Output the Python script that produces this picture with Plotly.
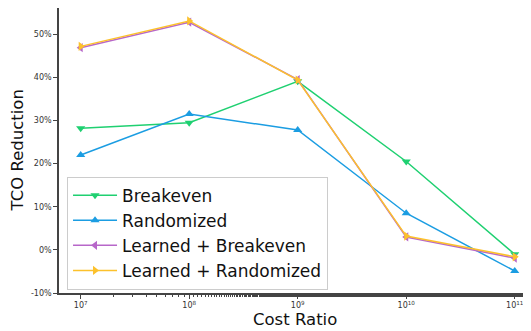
import plotly.graph_objects as go

cost_ratio = [1e7, 1e8, 1e9, 1e10, 1e11]
breakeven = [28.2, 29.5, 39.1, 20.5, -1.0]
randomized = [22.0, 31.5, 27.8, 8.5, -4.9]
learned_breakeven = [46.9, 52.8, 39.5, 3.0, -1.9]
learned_randomized = [47.2, 53.1, 39.4, 3.2, -1.6]

x_tickvals = [1e7, 1e8, 1e9, 1e10, 1e11]
x_ticktext = ["10<sup>7</sup>", "10<sup>8</sup>", "10<sup>9</sup>", "10<sup>10</sup>", "10<sup>11</sup>"]
y_tickvals = [-10, 0, 10, 20, 30, 40, 50]
y_ticktext = ["-10%", "0%", "10%", "20%", "30%", "40%", "50%"]

series = [
    ("Breakeven", breakeven, "#1fd071", "triangle-down"),
    ("Randomized", randomized, "#1b9de2", "triangle-up"),
    ("Learned + Breakeven", learned_breakeven, "#b767c9", "triangle-left"),
    ("Learned + Randomized", learned_randomized, "#fcc12c", "triangle-right"),
]

fig = go.Figure()
for name, vals, color, sym in series:
    fig.add_trace(go.Scatter(
        x=cost_ratio, y=vals, name=name, mode="lines+markers",
        line=dict(color=color, width=1.5),
        marker=dict(symbol=sym, size=8, color=color),
    ))

axis_font = dict(family="DejaVu Sans", size=8, color="#333")
title_font = dict(family="DejaVu Sans", size=16.5, color="#111")
# page body has an 8px default margin, so the paper is sized to fit inside it
fig.update_layout(
    width=523, height=323,
    margin=dict(l=51, r=0, t=0, b=38, autoexpand=False),
    plot_bgcolor="white", paper_bgcolor="white",
    font=dict(family="DejaVu Sans", color="#222"),
    showlegend=True,
    legend=dict(
        x=0.017, y=0.012, xanchor="left", yanchor="bottom",
        bgcolor="rgba(255,255,255,0.85)", bordercolor="#cccccc", borderwidth=1,
        font=dict(family="DejaVu Sans", size=17, color="#111"),
        tracegroupgap=0, itemwidth=44,
    ),
    xaxis=dict(
        type="log", range=[6.8, 11.15], automargin=False,
        tickvals=x_tickvals, ticktext=x_ticktext, tickfont=axis_font,
        ticks="outside", ticklen=4, tickcolor="#444",
        showgrid=False, zeroline=False,
        showline=True, linecolor="#444", linewidth=1.5, mirror=True,
        minor=dict(ticks="outside", ticklen=2, tickcolor="#444", showgrid=False),
    ),
    yaxis=dict(
        range=[-10, 56.1], automargin=False,
        tickvals=y_tickvals, ticktext=y_ticktext, tickfont=axis_font,
        ticks="outside", ticklen=4, tickcolor="#444",
        showgrid=False, zeroline=False,
        showline=True, linecolor="#444", linewidth=1.5,
    ),
    annotations=[
        dict(text="Cost Ratio", xref="paper", yref="paper", x=0.5, y=-0.092,
             xanchor="center", yanchor="middle", showarrow=False, font=title_font),
        dict(text="TCO Reduction", xref="paper", yref="paper", x=-0.087, y=0.5,
             xanchor="center", yanchor="middle", showarrow=False, textangle=-90, font=title_font),
    ],
)
fig.write_html("out.html")
